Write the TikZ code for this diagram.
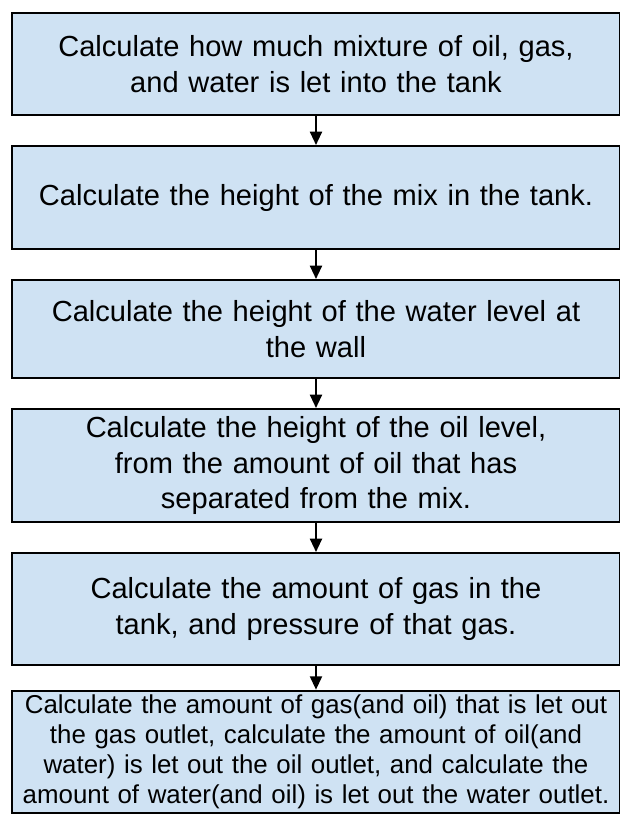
\documentclass[tikz,border=0pt]{standalone}
\usepackage{fontspec}
\setmainfont{Liberation Sans}
\usepackage{xcolor}
\definecolor{tankBlue}{RGB}{207,226,243}
\usetikzlibrary{positioning,arrows.meta}
\tikzset{
  stepbox/.style={rectangle,draw=black,fill=tankBlue,line width=1.5pt,
    align=center,minimum width=456pt,text width=452pt,inner sep=0pt,
    minimum height=#1,font=\fontsize{21.8}{26.5}\selectfont},
  stepbox/.default=75pt,
  smalltext/.style={font=\fontsize{19.4}{22.5}\selectfont,inner ysep=3pt},
  arrow/.style={-{Triangle[length=10pt,width=9pt]},draw=black,line width=1.5pt}
}

\begin{document}
\begin{tikzpicture}[node distance=21.75pt]
  \useasboundingbox (0,0) rectangle (464.25pt,-611.25pt);
  \node[stepbox=76.5pt, anchor=north] (inflow) at (237pt,-9pt)
    {Calculate how much mixture of oil, gas,\\and water is let into the tank};
  \node[stepbox=77.25pt, below=of inflow] (mixheight)
    {Calculate the height of the mix in the tank.};
  \node[stepbox=73.5pt, below=of mixheight] (waterlevel)
    {Calculate the height of the water level at\\the wall};
  \node[stepbox=84.75pt, below=of waterlevel] (oillevel)
    {Calculate the height of the oil level,\\from the amount of oil that has\\separated from the mix.};
  \node[stepbox=84pt, below=of oillevel] (gas)
    {Calculate the amount of gas in the\\tank, and pressure of that gas.};
  \node[stepbox=0pt, smalltext, below=of gas, yshift=4pt] (outlets)
    {Calculate the amount of gas(and oil) that is let out\\the gas outlet, calculate the amount of oil(and\\water) is let out the oil outlet, and calculate the\\amount of water(and oil) is let out the water outlet.};
  \draw[arrow] (inflow) -- (mixheight);
  \draw[arrow] (mixheight) -- (waterlevel);
  \draw[arrow] (waterlevel) -- (oillevel);
  \draw[arrow] (oillevel) -- (gas);
  \draw[arrow] (gas) -- (outlets);
\end{tikzpicture}
\end{document}
